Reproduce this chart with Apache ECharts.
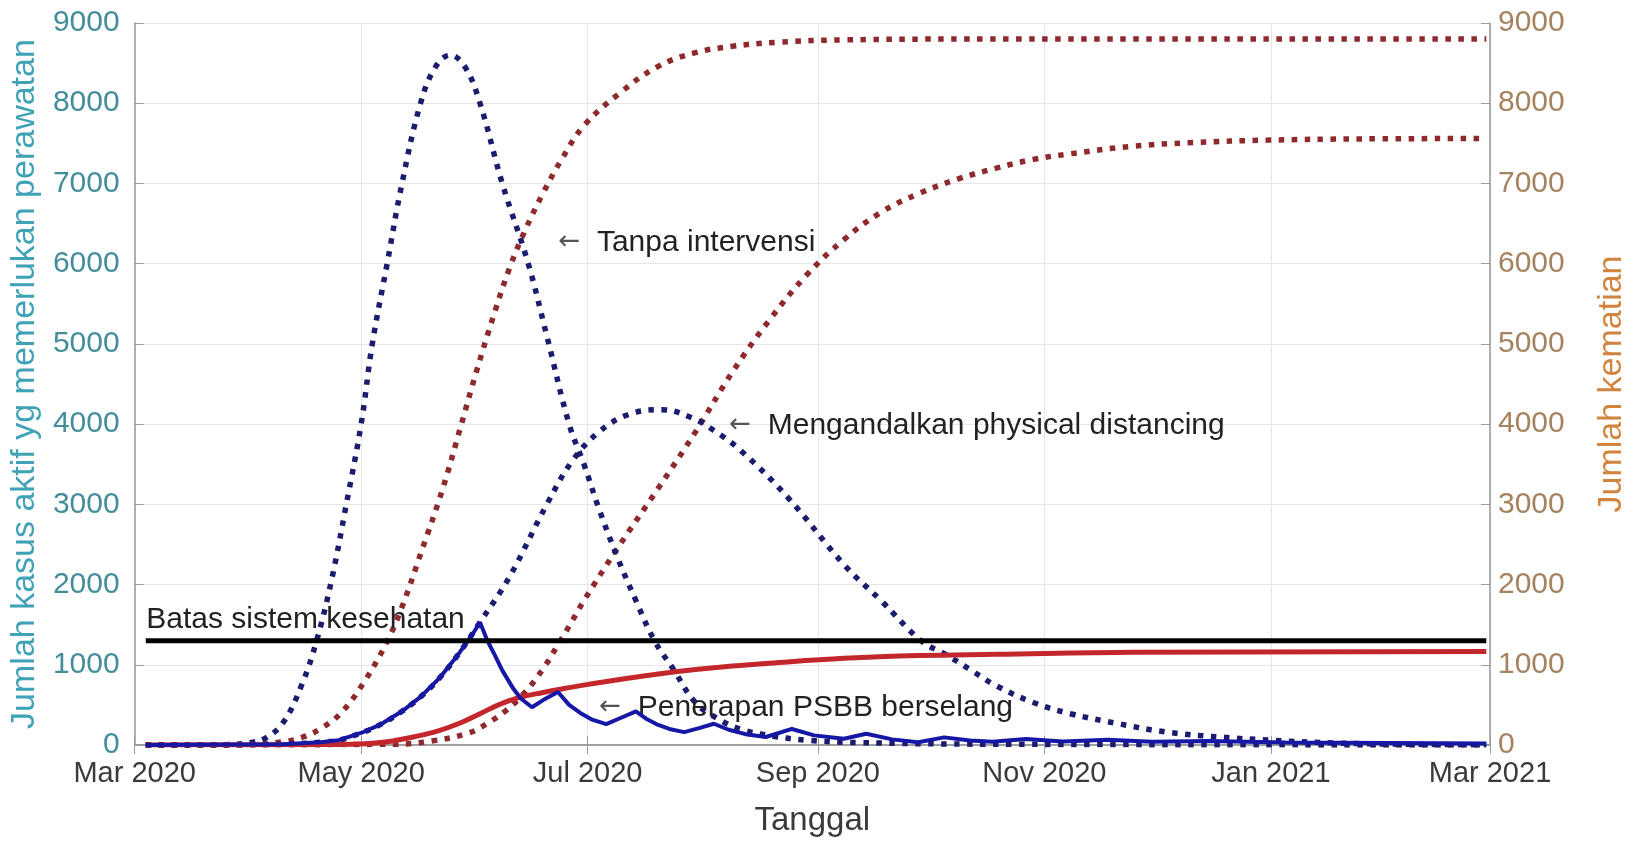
<!DOCTYPE html>
<html>
<head>
<meta charset="utf-8">
<script src="https://cdn.jsdelivr.net/npm/echarts@6/dist/echarts.min.js"></script>
<style>
html,body{margin:0;padding:0;background:#fff;}
#chart{width:1637px;height:842px;}
</style>
</head>
<body>
<div id="chart"></div>
<script>
// ---- tick labels ----
const xTickDates = ['2020-03-01','2020-05-01','2020-07-01','2020-09-01','2020-11-01','2021-01-01','2021-03-01'];
const xTickLabels = ['Mar 2020','May 2020','Jul 2020','Sep 2020','Nov 2020','Jan 2021','Mar 2021'];

// ---- active cases, no intervention (left axis) ----
const tanpaDates = ['2020-03-04','2020-03-26','2020-04-01','2020-04-05','2020-04-10','2020-04-15','2020-04-19','2020-04-23','2020-04-27','2020-05-01','2020-05-04','2020-05-08','2020-05-12','2020-05-17','2020-05-21','2020-05-25','2020-05-29','2020-06-02','2020-06-08','2020-06-15','2020-06-20','2020-06-26','2020-06-30','2020-07-04','2020-07-09','2020-07-14','2020-07-19','2020-07-24','2020-07-30','2020-08-05','2020-08-11','2020-08-20','2020-08-29','2020-09-12','2020-10-17','2021-02-28'];
const tanpaActive = [0,5,30,80,280,750,1300,2050,3000,4000,5000,6000,7000,8000,8450,8600,8450,8000,7000,6000,5100,4000,3500,2950,2340,1800,1300,950,530,330,200,110,60,30,10,0];

// ---- active cases, physical distancing (left axis) ----
const pdDates = ['2020-03-04','2020-04-10','2020-04-20','2020-04-25','2020-05-01','2020-05-06','2020-05-12','2020-05-17','2020-05-22','2020-05-27','2020-06-02','2020-06-10','2020-06-20','2020-06-27','2020-07-04','2020-07-12','2020-07-21','2020-07-29','2020-08-04','2020-08-11','2020-08-24','2020-09-08','2020-09-18','2020-09-29','2020-10-05','2020-10-12','2020-10-19','2020-10-29','2020-11-08','2020-11-21','2020-12-04','2020-12-18','2021-01-01','2021-01-18','2021-02-09','2021-02-28'];
const pdActive = [0,10,35,60,150,250,420,600,830,1120,1530,2100,3000,3550,3900,4120,4180,4080,3920,3680,3080,2250,1800,1290,1140,940,740,530,390,265,160,100,60,25,8,2];

// ---- active cases, intermittent PSBB (left axis) ----
const psbbDates = ['2020-03-04','2020-04-10','2020-04-20','2020-04-25','2020-05-01','2020-05-06','2020-05-12','2020-05-17','2020-05-22','2020-05-27','2020-05-31','2020-06-02','2020-06-04','2020-06-06','2020-06-08','2020-06-11','2020-06-13','2020-06-16','2020-06-19','2020-06-23','2020-06-26','2020-06-29','2020-07-02','2020-07-06','2020-07-10','2020-07-14','2020-07-17','2020-07-20','2020-07-23','2020-07-27','2020-07-31','2020-08-04','2020-08-08','2020-08-13','2020-08-18','2020-08-25','2020-08-31','2020-09-08','2020-09-14','2020-09-21','2020-09-28','2020-10-05','2020-10-12','2020-10-18','2020-10-27','2020-11-06','2020-11-18','2020-11-30','2020-12-15','2021-01-05','2021-02-28'];
const psbbActive = [0,10,35,60,150,250,420,600,830,1120,1380,1530,1300,1120,930,700,580,470,560,660,500,400,320,260,340,420,320,250,200,160,210,265,190,130,100,200,120,78,140,70,35,95,55,40,75,45,65,40,50,30,20];

// ---- deaths, no intervention (right axis) ----
const tanpaDeathDates = ['2020-03-04','2020-03-31','2020-04-10','2020-04-16','2020-04-21','2020-04-26','2020-05-02','2020-05-08','2020-05-12','2020-05-17','2020-05-23','2020-05-28','2020-06-01','2020-06-06','2020-06-10','2020-06-14','2020-06-19','2020-06-24','2020-06-30','2020-07-10','2020-07-20','2020-07-30','2020-08-09','2020-08-21','2020-09-08','2020-10-17','2021-02-28'];
const tanpaDeaths = [0,5,40,110,230,420,800,1290,1720,2380,3200,4000,4650,5400,5950,6400,6880,7300,7720,8140,8460,8630,8710,8760,8790,8800,8800];

// ---- deaths, physical distancing (right axis) ----
const pdDeathDates = ['2020-03-04','2020-05-10','2020-05-20','2020-05-30','2020-06-04','2020-06-09','2020-06-14','2020-06-19','2020-06-23','2020-06-26','2020-06-30','2020-07-09','2020-07-20','2020-07-30','2020-08-09','2020-08-19','2020-08-29','2020-09-08','2020-09-18','2020-09-28','2020-10-09','2020-10-19','2020-10-29','2020-11-08','2020-11-24','2020-12-11','2020-12-31','2021-01-25','2021-02-28'];
const pdDeaths = [0,10,50,150,270,430,650,950,1250,1480,1800,2450,3200,3900,4650,5300,5860,6300,6640,6870,7060,7190,7300,7370,7460,7510,7540,7555,7560];

// ---- deaths, intermittent PSBB (right axis) ----
const psbbDeathDates = ['2020-03-04','2020-04-25','2020-05-02','2020-05-08','2020-05-15','2020-05-22','2020-05-28','2020-06-02','2020-06-07','2020-06-12','2020-06-19','2020-06-26','2020-07-03','2020-07-10','2020-07-20','2020-07-30','2020-08-09','2020-08-19','2020-09-08','2020-09-28','2020-10-19','2020-11-25','2021-02-28'];
const psbbDeaths = [0,5,15,40,100,180,280,390,500,585,655,715,770,820,885,940,985,1020,1080,1115,1130,1155,1165];

// ---- health system capacity ----
const capacityDates = ['2020-03-04','2021-02-28'];
const capacityValue = [1300,1300];

// ---- annotations (text, anchor date, anchor value) ----
const notes = [
  {text:'Tanpa intervensi', date:'2020-06-23', value:6264},
  {text:'Mengandalkan physical distancing', date:'2020-08-08', value:3983},
  {text:'Penerapan PSBB berselang', date:'2020-07-04', value:468}
];
const capacityNote = {text:'Batas sistem kesehatan', date:'2020-03-04', value:1557};

// ---------------------------------------------------------
const FONT = '"Liberation Sans", Arial, Helvetica, sans-serif';
function ts(s){const p=s.split('-').map(Number);return new Date(p[0],p[1]-1,p[2]).getTime();}
function zip(d,v){return d.map((x,i)=>[ts(x),v[i]]);}
const tickTs = xTickDates.map(ts);
const labelMap = {};
tickTs.forEach((t,i)=>labelMap[t]=xTickLabels[i]);

const AXIS_COLOR = '#9a9a9a';
const GRID_COLOR = '#e6e6e6';
const BLUE_DOT = '#1c1c6e';
const RED_DOT = '#8e2a2e';

function dotted(color){
  return {color:color, width:5.5, type:[5.5,7.5], cap:'butt'};
}
function noteMark(n){
  return {
    symbol:'circle', symbolSize:1, silent:true,
    itemStyle:{color:'rgba(0,0,0,0)'},
    data:[{coord:[ts(n.date), n.value],
      label:{show:true, position:'right', distance:0,
        formatter:'{a|\u2190}{b|  '+n.text+'}',
        rich:{a:{fontSize:26, color:'#555', fontFamily:'"DejaVu Sans", sans-serif'},
              b:{fontSize:30, color:'#222', fontFamily:FONT}}}}]
  };
}

const chart = echarts.init(document.getElementById('chart'), null, {renderer:'canvas'});
chart.setOption({
  backgroundColor:'#ffffff',
  animation:false,
  grid:{left:130, right:122, top:23, bottom:89, containLabel:false},
  xAxis:[{
    type:'value', min:ts('2020-03-01'), max:ts('2021-03-01'), position:'bottom',
    name:'Tanggal', nameLocation:'middle', nameGap:59,
    nameTextStyle:{fontSize:33, color:'#3a3a3a', fontFamily:FONT},
    axisLine:{show:true, lineStyle:{color:AXIS_COLOR, width:1.5}},
    axisTick:{show:true, inside:true, length:9, customValues:tickTs, lineStyle:{color:AXIS_COLOR}},
    axisLabel:{show:true, customValues:tickTs, margin:14, fontSize:29, color:'#3a3a3a', fontFamily:FONT,
      formatter:function(v){return labelMap[v]!==undefined?labelMap[v]:'';}},
    splitLine:{show:true, lineStyle:{color:GRID_COLOR, width:1}}
  },{
    type:'value', min:ts('2020-03-01'), max:ts('2021-03-01'), position:'top',
    axisLine:{show:true, lineStyle:{color:AXIS_COLOR, width:1.5}},
    axisTick:{show:true, inside:true, length:9, customValues:tickTs, lineStyle:{color:AXIS_COLOR}},
    axisLabel:{show:false},
    splitLine:{show:false}
  }],
  yAxis:[{
    type:'value', min:0, max:9000, interval:1000, position:'left',
    name:'Jumlah kasus aktif yg memerlukan perawatan', nameLocation:'middle', nameRotate:90, nameGap:91,
    nameTextStyle:{fontSize:34, color:'#3fa2b6', fontFamily:FONT},
    axisLine:{show:true, lineStyle:{color:AXIS_COLOR, width:1.5}},
    axisTick:{show:true, inside:true, length:9, lineStyle:{color:AXIS_COLOR}},
    axisLabel:{margin:15, fontSize:30, color:'#438e9a', fontFamily:FONT, formatter:function(v){return String(v);}},
    splitLine:{show:true, lineStyle:{color:GRID_COLOR, width:1}}
  },{
    type:'value', min:0, max:9000, interval:1000, position:'right',
    name:'Jumlah kematian', nameLocation:'middle', nameRotate:90, nameGap:105,
    nameTextStyle:{fontSize:34, color:'#d2843f', fontFamily:FONT},
    axisLine:{show:true, lineStyle:{color:AXIS_COLOR, width:1.5}},
    axisTick:{show:true, inside:true, length:9, lineStyle:{color:AXIS_COLOR}},
    axisLabel:{margin:8, fontSize:30, color:'#a5835f', fontFamily:FONT, formatter:function(v){return String(v);}},
    splitLine:{show:false}
  }],
  series:[
    {name:'Kematian tanpa intervensi', type:'line', yAxisIndex:1, data:zip(tanpaDeathDates,tanpaDeaths),
     showSymbol:false, smooth:0.4, lineStyle:dotted(RED_DOT), z:2},
    {name:'Kematian physical distancing', type:'line', yAxisIndex:1, data:zip(pdDeathDates,pdDeaths),
     showSymbol:false, smooth:0.4, lineStyle:dotted(RED_DOT), z:2},
    {name:'Tanpa intervensi', type:'line', yAxisIndex:0, data:zip(tanpaDates,tanpaActive),
     showSymbol:false, smooth:0.4, lineStyle:dotted(BLUE_DOT), z:3, markPoint:noteMark(notes[0])},
    {name:'Mengandalkan physical distancing', type:'line', yAxisIndex:0, data:zip(pdDates,pdActive),
     showSymbol:false, smooth:0.4, lineStyle:dotted(BLUE_DOT), z:3, markPoint:noteMark(notes[1])},
    {name:'Kematian PSBB berselang', type:'line', yAxisIndex:1, data:zip(psbbDeathDates,psbbDeaths),
     showSymbol:false, smooth:0.4, lineStyle:{color:'#c4272b', width:5}, z:4},
    {name:'Penerapan PSBB berselang', type:'line', yAxisIndex:0, data:zip(psbbDates,psbbActive),
     showSymbol:false, smooth:false, lineStyle:{color:'#1717a6', width:4}, z:5, markPoint:noteMark(notes[2])},
    {name:'Batas sistem kesehatan', type:'line', yAxisIndex:0, data:zip(capacityDates,capacityValue),
     showSymbol:false, lineStyle:{color:'#000000', width:5}, z:6,
     markPoint:{symbol:'circle', symbolSize:1, silent:true, itemStyle:{color:'rgba(0,0,0,0)'},
       data:[{coord:[ts(capacityNote.date), capacityNote.value],
         label:{show:true, position:'right', distance:0, formatter:capacityNote.text,
           fontSize:30, color:'#222', fontFamily:FONT}}]}}
  ]
});
</script>
</body>
</html>
